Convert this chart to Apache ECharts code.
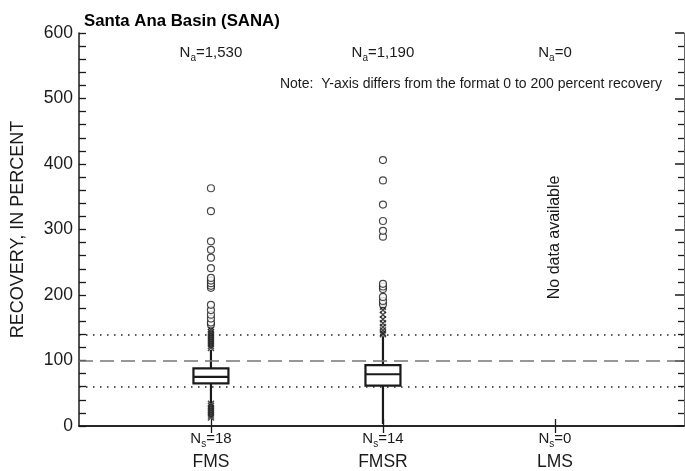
<!DOCTYPE html>
<html>
<head>
<meta charset="utf-8">
<script src="https://cdn.jsdelivr.net/npm/echarts@6/dist/echarts.min.js"></script>
<style>
  html, body { margin: 0; padding: 0; background: #fff; }
  #chart { width: 685px; height: 471px; }
</style>
</head>
<body>
<div id="chart"></div>
<script>
// Sampler categories and their positions on the x scale
const categories = ['FMS', 'FMSR', 'LMS'];
const categoryPos = [1, 2, 3];
// Number of analyses (Na) and samples (Ns) for each sampler
const analysisCounts = ['1,530', '1,190', '0'];
const sampleCounts = ['18', '14', '0'];

// Box statistics, percent recovery: [lower whisker, Q1, median, Q3, upper whisker]
const fmsBox = [35, 65, 75, 88, 116];
const fmsrBox = [3, 61.5, 79, 93, 137];

// Outside values (x markers) and far-out values (circles)
const fmsOutside = [119, 122, 125, 128, 131, 134, 137, 140, 143, 147, 151, 34, 31, 28, 25, 22, 19, 16, 13];
const fmsFarOut = [155, 158, 164, 170, 177, 185, 211, 214, 218, 222, 226, 241, 257, 269, 282, 328, 363];
const fmsrOutside = [140, 142, 146, 151, 157, 163, 170, 177, 182];
const fmsrFarOut = [186, 191, 197, 209, 213, 217, 289, 298, 313, 338, 375, 406];

// Reference lines: 100 percent (dashed) and 60/140 percent (dotted)
const dashedRef = [100];
const dottedRef = [60, 140];

// Y axis range and tick spacing
const yMin = 0, yMax = 600, yStep = 100;

// Level (percent) at which the no-data note is centred
const noDataLevel = 288;

const FONT = '"Liberation Sans", Arial, Helvetica, sans-serif';
const INK = '#1a1a1a';

const boxRows = [
  [categoryPos[0], ...fmsBox],
  [categoryPos[1], ...fmsrBox]
];
const outsidePts = [
  ...fmsOutside.map(v => [categoryPos[0], v]),
  ...fmsrOutside.map(v => [categoryPos[1], v])
];
const farOutPts = [
  ...fmsFarOut.map(v => [categoryPos[0], v]),
  ...fmsrFarOut.map(v => [categoryPos[1], v])
];

const subRich = {
  n: { fontFamily: FONT, fontSize: 15, color: INK, lineHeight: 20 },
  s: { fontFamily: FONT, fontSize: 10, color: INK, lineHeight: 20, verticalAlign: 'bottom' },
  c: { fontFamily: FONT, fontSize: 17.5, color: INK, lineHeight: 26 }
};

const xMin = 0.233, xMax = 3.75;

const chart = echarts.init(document.getElementById('chart'), null, { renderer: 'canvas' });

const option = {
  backgroundColor: '#fff',
  animation: false,
  title: {
    text: 'Santa Ana Basin (SANA)',
    left: 79, top: 8,
    textStyle: { fontFamily: FONT, fontSize: 16.8, fontWeight: 'bold', color: '#000' }
  },
  grid: { left: 79, right: 1, top: 33, bottom: 45 },
  xAxis: [
    {
      type: 'value', position: 'bottom', min: xMin, max: xMax,
      splitLine: { show: false },
      axisLine: { show: true, lineStyle: { color: INK, width: 1.5 } },
      axisTick: { show: true, inside: true, length: 7, customValues: categoryPos, lineStyle: { color: INK, width: 1.3 } },
      axisLabel: {
        customValues: categoryPos, margin: 3,
        formatter: v => {
          const i = categoryPos.indexOf(v);
          return '{n|N}{s|s}{n|=' + sampleCounts[i] + '}\n{c|' + categories[i] + '}';
        },
        rich: subRich
      }
    },
    {
      type: 'value', position: 'top', min: xMin, max: xMax,
      splitLine: { show: false },
      axisLine: { show: true, lineStyle: { color: INK, width: 1.5 } },
      axisTick: { show: true, inside: true, length: 7, customValues: categoryPos, lineStyle: { color: INK, width: 1.3 } },
      axisLabel: {
        customValues: categoryPos, inside: true, margin: 10,
        formatter: v => {
          const i = categoryPos.indexOf(v);
          return '{n|N}{s|a}{n|=' + analysisCounts[i] + '}';
        },
        rich: subRich
      }
    }
  ],
  yAxis: [
    {
      type: 'value', position: 'left', min: yMin, max: yMax, interval: yStep,
      name: 'RECOVERY, IN PERCENT', nameLocation: 'middle', nameGap: 52,
      nameTextStyle: { fontFamily: FONT, fontSize: 18, color: INK },
      splitLine: { show: false },
      axisLine: { show: true, lineStyle: { color: INK, width: 1.5 } },
      axisTick: { show: true, inside: true, length: 7, lineStyle: { color: INK, width: 1.3 } },
      minorTick: { show: true, splitNumber: 5, length: 7, lineStyle: { color: INK, width: 1.3 } },
      axisLabel: { fontFamily: FONT, fontSize: 17.5, color: INK, margin: 6 }
    },
    {
      type: 'value', position: 'right', min: yMin, max: yMax, interval: yStep,
      splitLine: { show: false },
      axisLine: { show: true, lineStyle: { color: '#666', width: 1 } },
      axisTick: { show: true, inside: true, length: 9, lineStyle: { color: INK, width: 1.5 } },
      minorTick: { show: true, splitNumber: 5, length: 6, lineStyle: { color: INK, width: 1.3 } },
      axisLabel: { show: false }
    }
  ],
  series: [
    {
      type: 'custom',
      xAxisIndex: 0, yAxisIndex: 0,
      data: boxRows,
      renderItem: (params, api) => {
        const x = api.value(0);
        const lo = api.coord([x, api.value(1)]);
        const q1 = api.coord([x, api.value(2)]);
        const med = api.coord([x, api.value(3)]);
        const q3 = api.coord([x, api.value(4)]);
        const hi = api.coord([x, api.value(5)]);
        const hw = 17.5;
        const stroke = { stroke: INK, lineWidth: 2.2, fill: null };
        return {
          type: 'group',
          children: [
            { type: 'line', shape: { x1: lo[0], y1: lo[1], x2: q1[0], y2: q1[1] }, style: stroke },
            { type: 'line', shape: { x1: q3[0], y1: q3[1], x2: hi[0], y2: hi[1] }, style: stroke },
            { type: 'rect', shape: { x: q3[0] - hw, y: q3[1], width: hw * 2, height: q1[1] - q3[1] },
              style: { stroke: INK, lineWidth: 2.2, fill: '#fff' } },
            { type: 'line', shape: { x1: med[0] - hw, y1: med[1], x2: med[0] + hw, y2: med[1] }, style: stroke }
          ]
        };
      },
      z: 3
    },
    {
      type: 'scatter',
      xAxisIndex: 0, yAxisIndex: 0,
      data: outsidePts,
      symbol: 'path://M0,0L10,10M10,0L0,10',
      symbolSize: 6,
      itemStyle: { color: 'none', borderColor: INK, borderWidth: 1.4 },
      z: 4,
      markLine: {
        silent: true, symbol: 'none', label: { show: false },
        data: [
          ...dashedRef.map(v => ({ yAxis: v, lineStyle: { color: '#777', width: 1.6, type: [14, 7] } })),
          ...dottedRef.map(v => ({ yAxis: v, lineStyle: { color: '#222', width: 1.5, type: [1.5, 5.5] } }))
        ]
      }
    },
    {
      type: 'scatter',
      xAxisIndex: 0, yAxisIndex: 0,
      data: farOutPts,
      symbol: 'circle',
      symbolSize: 7,
      itemStyle: { color: '#fff', borderColor: INK, borderWidth: 1.2 },
      z: 5
    }
  ],
  graphic: [
    {
      id: 'note', type: 'text', right: 685 - 662, top: 77,
      style: {
        text: 'Note:  Y-axis differs from the format 0 to 200 percent recovery',
        font: '14px ' + FONT, fill: INK
      }
    }
  ]
};

chart.setOption(option);

// Vertical note for the sampler that has no data, placed through the axis scales
const p = chart.convertToPixel({ xAxisIndex: 0, yAxisIndex: 0 }, [categoryPos[2], noDataLevel]);
chart.setOption({
  graphic: [
    {
      id: 'nodata', type: 'text', x: p[0], y: p[1], rotation: Math.PI / 2,
      style: {
        text: 'No data available', font: '16px ' + FONT, fill: INK,
        align: 'center', verticalAlign: 'middle'
      }
    }
  ]
});
</script>
</body>
</html>
